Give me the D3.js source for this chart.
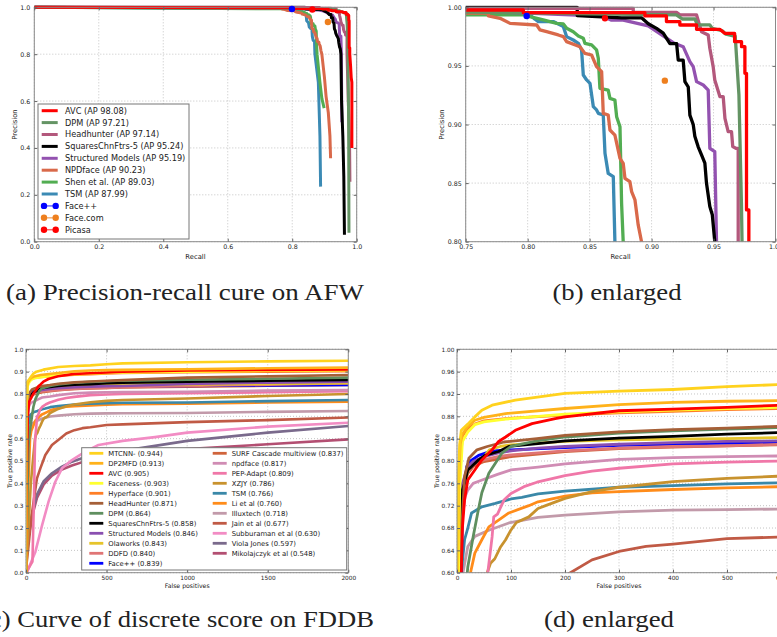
<!DOCTYPE html>
<html>
<head>
<meta charset="utf-8">
<script src="https://cdn.jsdelivr.net/npm/d3@7"></script>
<style>
  body { margin: 0; background: #fff; }
  svg { display: block; }
  text { font-family: "DejaVu Sans", sans-serif; fill: #222; }
</style>
</head>
<body>
<svg id="fig" width="777" height="637"></svg>
<script>
// ---------- AFW precision / recall  ([recall, precision]) ----------
const afwNames = ["AVC (AP 98.08)", "DPM (AP 97.21)", "Headhunter (AP 97.14)", "SquaresChnFtrs-5 (AP 95.24)",
  "Structured Models (AP 95.19)", "NPDface (AP 90.23)", "Shen et al. (AP 89.03)", "TSM (AP 87.99)"];
const afwColors = ["#ff0000", "#649464", "#b3587c", "#000000", "#9352b0", "#d9694a", "#52ad52", "#3b8ab4"];

const afwAVC = [[0,1],[0.75,0.9977],[0.7965,0.9977],[0.7965,0.9954],[0.8946,0.9954],[0.8946,0.9926],[0.912,0.9926],
  [0.912,0.9878],[0.9228,0.9878],[0.9228,0.9849],[0.9363,0.9849],[0.9363,0.9812],[0.955,0.9812],[0.959,0.9778],
  [0.967,0.9778],[0.967,0.9707],[0.9726,0.9707],[0.9726,0.9664],[0.9753,0.9664],[0.9753,0.9437],[0.9766,0.9437],
  [0.9766,0.8271],[0.9785,0.8271],[0.9785,0.80],[0.981,0.75],[0.983,0.70],[0.985,0.68],[0.985,0.40]];
const afwDPM = [[0,1],[0.75,0.996],[0.85,0.9945],[0.92,0.9935],[0.925,0.99],[0.935,0.99],[0.937,0.985],[0.947,0.985],
  [0.949,0.982],[0.957,0.98],[0.96,0.977],[0.966,0.9755],[0.9675,0.9755],[0.969,0.95],[0.9705,0.925],[0.9725,0.833],
  [0.973,0.80],[0.975,0.50],[0.976,0.038]];
const afwHeadhunter = [[0,1],[0.75,0.9991],[0.8852,0.9991],[0.8852,0.9957],[0.9201,0.9957],[0.9228,0.9935],
  [0.9363,0.9935],[0.9403,0.9792],[0.9457,0.9764],[0.947,0.965],[0.9497,0.9494],[0.951,0.938],[0.9551,0.9238],
  [0.9578,0.9238],[0.9592,0.9053],[0.9618,0.8939],[0.9645,0.8939],[0.9655,0.8811],[0.968,0.8797],[0.9699,0.8797],
  [0.9699,0.80],[0.974,0.60],[0.978,0.40],[0.979,0.256]];
const afwSquares = [[0,1],[0.84,1.0],[0.84,0.993],[0.8758,0.991],[0.8919,0.991],[0.8973,0.986],[0.904,0.982],
  [0.9094,0.978],[0.9148,0.969],[0.9202,0.969],[0.9215,0.955],[0.9255,0.955],[0.9269,0.9366],[0.9296,0.932],
  [0.9309,0.908],[0.9336,0.90],[0.9349,0.89],[0.9376,0.881],[0.9403,0.874],[0.943,0.867],[0.9443,0.85],
  [0.947,0.83],[0.949,0.823],[0.951,0.80],[0.953,0.60],[0.957,0.45],[0.96,0.28],[0.962,0.03]];
const afwStructured = [[0,1],[0.55,0.998],[0.75,0.997],[0.86,0.9925],[0.8677,0.989],[0.8771,0.989],[0.8973,0.9841],
  [0.9175,0.9698],[0.9255,0.9664],[0.9309,0.9536],[0.9336,0.9494],[0.9363,0.9366],[0.9417,0.9337],[0.9457,0.9294],
  [0.947,0.8797],[0.951,0.8768],[0.9524,0.80],[0.954,0.51]];
const afwNPD = [[0,1],[0.45,0.999],[0.75,0.995],[0.7683,0.995],[0.7683,0.9926],[0.7777,0.9906],[0.7858,0.9863],
  [0.8073,0.9849],[0.8099,0.9807],[0.8153,0.9792],[0.8247,0.9764],[0.8288,0.975],[0.8314,0.9707],[0.8422,0.9664],
  [0.8462,0.9607],[0.8516,0.9593],[0.8556,0.9494],[0.8597,0.9451],[0.861,0.9095],[0.865,0.9081],[0.8664,0.8953],
  [0.8704,0.891],[0.8745,0.8711],[0.8771,0.8669],[0.8785,0.8541],[0.8825,0.8512],[0.8839,0.8427],[0.8866,0.8356],
  [0.8892,0.8143],[0.8919,0.80],[0.90,0.70],[0.905,0.62],[0.912,0.55],[0.917,0.45],[0.919,0.356]];
const afwShen = [[0,1],[0.75,0.9935],[0.7992,0.9935],[0.7992,0.9926],[0.8126,0.9892],[0.8234,0.9863],[0.8288,0.9858],
  [0.8315,0.9821],[0.8368,0.9792],[0.8409,0.9755],[0.8449,0.9735],[0.8462,0.9693],[0.8516,0.9679],[0.8556,0.9636],
  [0.857,0.9565],[0.8583,0.9309],[0.865,0.9294],[0.8664,0.9223],[0.8704,0.9209],[0.8718,0.9067],[0.8745,0.8981],
  [0.8758,0.8327],[0.8771,0.80],[0.886,0.68],[0.892,0.61],[0.899,0.57]];
const afwTSM = [[0,1],[0.75,0.9949],[0.7992,0.9949],[0.8019,0.9935],[0.8059,0.9898],[0.8086,0.9878],[0.8207,0.9878],
  [0.8288,0.9835],[0.8314,0.975],[0.8368,0.9721],[0.8409,0.9693],[0.8435,0.9636],[0.8449,0.9422],[0.8476,0.938],
  [0.8503,0.9351],[0.853,0.9152],[0.8556,0.9124],[0.857,0.9095],[0.861,0.9081],[0.8624,0.8754],[0.865,0.8583],
  [0.8691,0.8555],[0.8704,0.80],[0.881,0.68],[0.886,0.45],[0.888,0.235]];

// single operating points of the commercial systems
const afwPointNames = ["Face++", "Face.com", "Picasa"];
const afwPointColors = ["#0000ff", "#ee7f1e", "#ff0000"];
const afwPoints = [[0.7992, 0.9926], [0.9107, 0.9374], [0.8624, 0.9906]];

const afwTicksFull = [0, 0.2, 0.4, 0.6, 0.8, 1.0];
const afwTicksZoomX = [0.75, 0.80, 0.85, 0.90, 0.95, 1.00];
const afwTicksZoomY = [0.80, 0.85, 0.90, 0.95, 1.00];

// ---------- FDDB discrete ROC  ([false positives, true positive rate]) ----------
const fddbNames = ["MTCNN- (0.944)", "DP2MFD (0.913)", "AVC (0.905)", "Faceness- (0.903)", "Hyperface (0.901)",
  "HeadHunter (0.871)", "DPM (0.864)", "SquaresChnFtrs-5 (0.858)", "Structured Models (0.846)", "Olaworks (0.843)",
  "DDFD (0.840)", "Face++ (0.839)", "SURF Cascade multiview (0.837)", "npdface (0.817)", "PEP-Adapt (0.809)",
  "XZJY (0.786)", "TSM (0.766)", "Li et al (0.760)", "Illuxtech (0.718)", "Jain et al (0.677)",
  "Subburaman et al (0.630)", "Viola Jones (0.597)", "Mikolajczyk et al (0.548)"];
const fddbColors = ["#ffd21e", "#ffb21a", "#ff0000", "#ffff30", "#ff7e26", "#a55f37", "#5f8f5f", "#000000",
  "#8a4fb0", "#e6c42a", "#e07575", "#0000ff", "#d0643c", "#d08cb4", "#f077a8", "#c8922e", "#3a88a8", "#ff8c1a",
  "#c29aaa", "#c05a45", "#f28cc4", "#7a6a8c", "#b34f72"];

const rocMTCNN = [[0,0],[1,0.6],[3,0.78],[5,0.83],[8,0.855],[20,0.866],[33,0.879],[46,0.891],[65,0.90],[108,0.909],
  [200,0.921],[300,0.925],[400,0.928],[500,0.933],[600,0.937],[1000,0.942],[1500,0.946],[2000,0.949]];
const rocDP2MFD = [[0,0],[1,0.6],[3,0.76],[6,0.83],[10,0.848],[20,0.862],[33,0.873],[50,0.878],[90,0.885],
  [200,0.894],[300,0.901],[400,0.905],[500,0.907],[600,0.908],[1000,0.911],[1500,0.915],[2000,0.918]];
const rocAVC = [[0,0],[5,0.45],[8,0.60],[10,0.68],[14,0.73],[20,0.766],[33,0.784],[46,0.802],[65,0.82],[77,0.835],
  [90,0.843],[108,0.855],[139,0.867],[182,0.876],[200,0.879],[300,0.89],[400,0.893],[500,0.896],[600,0.90],
  [1000,0.905],[1500,0.908],[2000,0.91]];
const rocFaceness = [[0,0],[2,0.55],[5,0.75],[10,0.835],[20,0.852],[33,0.865],[50,0.87],[90,0.875],[200,0.884],
  [300,0.888],[400,0.891],[500,0.894],[600,0.896],[1000,0.90],[1500,0.904],[2000,0.907]];
const rocHyperface = [[0,0],[2,0.6],[5,0.78],[10,0.845],[20,0.858],[33,0.866],[50,0.872],[90,0.876],[200,0.882],
  [300,0.886],[400,0.889],[500,0.892],[600,0.894],[1000,0.897],[1500,0.90],[2000,0.902]];
const rocHeadHunter = [[0,0],[3,0.45],[6,0.62],[10,0.70],[14,0.772],[22,0.805],[37,0.82],[56,0.826],[87,0.834],
  [148,0.84],[200,0.846],[300,0.852],[400,0.856],[500,0.859],[600,0.862],[1000,0.873],[1500,0.879],[2000,0.885]];
const rocDPM = [[0,0],[5,0.2],[10,0.40],[15,0.56],[20,0.61],[30,0.665],[40,0.715],[46,0.743],[59,0.778],[71,0.796],
  [83,0.814],[100,0.826],[148,0.836],[200,0.843],[300,0.85],[400,0.854],[500,0.857],[600,0.86],[1000,0.864],
  [1500,0.868],[2000,0.873]];
const rocSquares = [[0,0],[3,0.45],[5,0.676],[10,0.748],[14,0.76],[20,0.784],[27,0.79],[40,0.802],[52,0.81],
  [77,0.817],[96,0.826],[150,0.831],[200,0.836],[300,0.841],[400,0.844],[500,0.848],[600,0.851],[1000,0.855],
  [1500,0.859],[2000,0.863]];
const rocStructured = [[0,0],[3,0.5],[6,0.7],[10,0.76],[20,0.79],[30,0.799],[50,0.808],[75,0.814],[100,0.818],
  [150,0.823],[200,0.826],[300,0.83],[400,0.833],[500,0.835],[600,0.836],[1000,0.845],[1500,0.851],[2000,0.855]];
const rocOlaworks = [[0,0],[3,0.5],[6,0.68],[10,0.74],[20,0.784],[30,0.796],[40,0.802],[50,0.808],[60,0.82],
  [80,0.826],[100,0.829],[200,0.835],[300,0.838],[400,0.839],[500,0.84],[600,0.842],[1000,0.843],[1500,0.845],
  [2000,0.848]];
const rocDDFD = [[0,0],[3,0.5],[6,0.68],[10,0.73],[15,0.769],[20,0.781],[30,0.793],[40,0.799],[50,0.802],[75,0.808],
  [100,0.811],[200,0.818],[300,0.823],[400,0.826],[500,0.827],[600,0.83],[1000,0.836],[1500,0.842],[2000,0.848]];
const rocFacePP = [[0,0],[5,0.45],[10,0.70],[14,0.755],[18,0.79],[25,0.80],[40,0.81],[65,0.818],[100,0.82],
  [200,0.824],[300,0.828],[400,0.83],[500,0.832],[600,0.833],[1000,0.836],[1500,0.838],[2000,0.84]];
const rocSURF = [[0,0],[3,0.45],[6,0.65],[10,0.748],[20,0.778],[30,0.79],[50,0.799],[100,0.808],[200,0.817],
  [300,0.822],[400,0.825],[500,0.827],[600,0.829],[1000,0.833],[1500,0.837],[2000,0.84]];
const rocNpdface = [[0,0],[3,0.4],[6,0.6],[10,0.70],[15,0.736],[20,0.748],[30,0.76],[44,0.765],[75,0.776],
  [100,0.784],[150,0.789],[200,0.795],[300,0.803],[400,0.806],[500,0.808],[600,0.809],[1000,0.81],[1500,0.815],
  [2000,0.818]];
const rocPEP = [[0,0],[40,0.05],[50,0.35],[55,0.55],[57,0.60],[62,0.64],[65,0.664],[68,0.70],[75,0.705],[87,0.73],
  [100,0.742],[124,0.754],[148,0.762],[200,0.774],[250,0.782],[300,0.787],[400,0.795],[500,0.798],[600,0.80],
  [1000,0.803],[1500,0.808],[2000,0.812]];
const rocXZJY = [[0,0],[15,0.2],[30,0.40],[45,0.52],[56,0.60],[62,0.617],[70,0.625],[80,0.645],[90,0.659],
  [99,0.675],[110,0.69],[133,0.70],[150,0.715],[164,0.72],[200,0.733],[250,0.745],[300,0.753],[400,0.763],
  [500,0.769],[600,0.773],[1000,0.78],[1500,0.791],[2000,0.80]];
const rocTSM = [[0,0],[3,0.3],[6,0.5],[8,0.60],[14,0.659],[20,0.68],[27,0.707],[46,0.718],[71,0.724],[100,0.732],
  [120,0.735],[150,0.741],[200,0.746],[300,0.753],[400,0.756],[500,0.759],[600,0.761],[1000,0.762],[1500,0.768],
  [2000,0.773]];
const rocLi = [[0,0],[10,0.3],[20,0.5],[25,0.60],[33,0.635],[46,0.659],[59,0.682],[77,0.694],[96,0.707],[133,0.72],
  [150,0.727],[200,0.737],[250,0.743],[300,0.745],[400,0.749],[500,0.752],[600,0.754],[1000,0.757],[1500,0.762],
  [2000,0.766]];
const rocIlluxtech = [[0,0],[3,0.3],[7,0.5],[11,0.60],[20,0.647],[33,0.665],[59,0.676],[96,0.689],[150,0.699],
  [200,0.703],[300,0.709],[400,0.712],[500,0.713],[600,0.714],[1000,0.715],[1500,0.72],[2000,0.724]];
const rocJain = [[0,0],[5,0.05],[16,0.124],[33,0.243],[47,0.318],[68,0.422],[89,0.467],[120,0.527],[161,0.572],
  [210,0.60],[250,0.623],[300,0.638],[350,0.647],[400,0.651],[500,0.661],[600,0.664],[1000,0.674],[1500,0.683],
  [2000,0.695]];
const rocSubburaman = [[0,0],[6,0.0],[30,0.045],[58,0.093],[100,0.213],[140,0.318],[182,0.407],[223,0.467],
  [285,0.504],[368,0.542],[450,0.572],[600,0.59],[800,0.607],[1000,0.627],[1500,0.654],[2000,0.671]];
const rocViola = [[0,0],[5,0.09],[16,0.17],[37,0.26],[68,0.35],[110,0.41],[161,0.445],[223,0.475],[285,0.497],
  [347,0.512],[500,0.535],[830,0.571],[1000,0.59],[1500,0.627],[2000,0.657]];
const rocMikolajczyk = [[0,0],[5,0.08],[16,0.16],[37,0.25],[68,0.335],[110,0.395],[161,0.435],[223,0.462],
  [285,0.48],[350,0.495],[500,0.515],[1000,0.553],[1500,0.575],[2000,0.597]];

const fddbTicksFullX = [0, 500, 1000, 1500, 2000];
const fddbTicksFullY = [0, 0.1, 0.2, 0.3, 0.4, 0.5, 0.6, 0.7, 0.8, 0.9, 1.0];
const fddbTicksZoomX = [0, 100, 200, 300, 400, 500, 600];
const fddbTicksZoomY = [0.60, 0.64, 0.68, 0.72, 0.76, 0.80, 0.84, 0.88, 0.92, 0.96, 1.00];

const captions = ["(a) Precision-recall cure on AFW", "(b) enlarged", "(c) Curve of discrete score on FDDB", "(d) enlarged"];

// ---------- build series ----------
const afwCurves = [afwAVC, afwDPM, afwHeadhunter, afwSquares, afwStructured, afwNPD, afwShen, afwTSM];
const afwSeries = afwNames.map((n, i) => ({ name: n, color: afwColors[i], pts: afwCurves[i] }));

const fddbCurves = [rocMTCNN, rocDP2MFD, rocAVC, rocFaceness, rocHyperface, rocHeadHunter, rocDPM, rocSquares,
  rocStructured, rocOlaworks, rocDDFD, rocFacePP, rocSURF, rocNpdface, rocPEP, rocXZJY, rocTSM, rocLi,
  rocIlluxtech, rocJain, rocSubburaman, rocViola, rocMikolajczyk];
const fddbSeries = fddbNames.map((n, i) => ({ name: n, color: fddbColors[i], pts: fddbCurves[i] }));

const svg = d3.select("#fig");

// one axes box: grid, curves, frame, inward ticks, labels
let drawPanel = (o) => {
  const x = d3.scaleLinear().domain(o.xDomain).range([o.left, o.right]);
  const y = d3.scaleLinear().domain(o.yDomain).range([o.bottom, o.top]);
  const g = svg.append("g");

  svg.append("clipPath").attr("id", "clip-" + o.id)
    .append("rect")
    .attr("x", o.left).attr("y", o.top - 2)
    .attr("width", o.right - o.left).attr("height", o.bottom - o.top + 2);

  // dotted grid
  const grid = g.append("g").attr("stroke", "#b5b5b5").attr("stroke-width", 0.8).attr("stroke-dasharray", "1,2");
  grid.selectAll(".gx").data(o.xTicks).join("line")
    .attr("x1", d => x(d)).attr("x2", d => x(d)).attr("y1", o.top).attr("y2", o.bottom);
  grid.selectAll(".gy").data(o.yTicks).join("line")
    .attr("y1", d => y(d)).attr("y2", d => y(d)).attr("x1", o.left).attr("x2", o.right);

  // curves, first legend entry ends on top
  const line = d3.line().x(d => x(d[0])).y(d => y(d[1]));
  g.append("g").attr("clip-path", `url(#clip-${o.id})`)
    .selectAll("path").data(o.series.slice().reverse()).join("path")
    .attr("d", d => line(d.pts))
    .attr("fill", "none")
    .attr("stroke", d => d.color)
    .attr("stroke-width", o.lw)
    .attr("stroke-linejoin", "round");

  // frame
  g.append("rect")
    .attr("x", o.left).attr("y", o.top)
    .attr("width", o.right - o.left).attr("height", o.bottom - o.top)
    .attr("fill", "none").attr("stroke", "#8a8a8a").attr("stroke-width", 1);

  // axes with ticks pointing inward
  const styleAxis = (sel, size) => {
    sel.select(".domain").remove();
    sel.selectAll(".tick line").attr("stroke", "#666");
    sel.selectAll("text").style("font-size", size + "px").style("font-family", "DejaVu Sans, sans-serif").attr("fill", "#222");
  };
  g.append("g").attr("transform", `translate(0,${o.bottom})`)
    .call(d3.axisBottom(x).tickValues(o.xTicks).tickFormat(d3.format(o.xFmt)).tickSizeInner(-3).tickSizeOuter(0).tickPadding(3))
    .call(s => styleAxis(s, o.tickFont));
  g.append("g").attr("transform", `translate(${o.left},0)`)
    .call(d3.axisLeft(y).tickValues(o.yTicks).tickFormat(d3.format(o.yFmt)).tickSizeInner(-3).tickSizeOuter(0).tickPadding(o.yPad))
    .call(s => styleAxis(s, o.tickFont));
  g.append("g").attr("transform", `translate(0,${o.top})`)
    .call(d3.axisTop(x).tickValues(o.xTicks).tickFormat("").tickSizeInner(-3).tickSizeOuter(0))
    .call(s => styleAxis(s, o.tickFont));
  g.append("g").attr("transform", `translate(${o.right},0)`)
    .call(d3.axisRight(y).tickValues(o.yTicks).tickFormat("").tickSizeInner(-3).tickSizeOuter(0))
    .call(s => styleAxis(s, o.tickFont));

  // axis titles
  g.append("text")
    .attr("x", (o.left + o.right) / 2).attr("y", o.xLabelY)
    .attr("text-anchor", "middle").style("font-size", o.labelFont + "px")
    .text(o.xLabel);
  g.append("text")
    .attr("transform", `translate(${o.yLabelX},${(o.top + o.bottom) / 2}) rotate(-90)`)
    .attr("text-anchor", "middle").attr("dy", "0.35em").style("font-size", o.labelFont + "px")
    .text(o.yLabel);

  return { x, y, g };
};

// ---------- (a) and (b) ----------
const afwBase = { series: afwSeries, lw: 3, tickFont: 6.3, labelFont: 6.8, xFmt: ".1f", yFmt: ".1f",
  top: 7.3, bottom: 241.7, xLabel: "Recall", yLabel: "Precision", xLabelY: 258.5, yPad: 4 };

const pa = drawPanel(Object.assign({}, afwBase, { id: "a", left: 34.3, right: 356.7,
  xDomain: [0, 1], yDomain: [0, 1], xTicks: afwTicksFull, yTicks: afwTicksFull, yLabelX: 15 }));
const pb = drawPanel(Object.assign({}, afwBase, { id: "b", left: 465.7, right: 775.5, lw: 3.3,
  xDomain: [0.75, 1], yDomain: [0.8, 1], xTicks: afwTicksZoomX, yTicks: afwTicksZoomY,
  xFmt: ".2f", yFmt: ".2f", yLabelX: 441.7 }));

[pa, pb].forEach(p => {
  p.g.selectAll(".pt").data(afwPoints).join("circle")
    .attr("cx", d => p.x(d[0])).attr("cy", d => p.y(d[1]))
    .attr("r", 3.2)
    .attr("fill", (d, i) => afwPointColors[i]);
});

// legend (a)
const legA = svg.append("g");
legA.append("rect").attr("x", 38).attr("y", 104).attr("width", 151).attr("height", 135)
  .attr("fill", "#fff").attr("stroke", "#777").attr("stroke-width", 1);
const rowA = d3.scaleLinear().domain([0, 10]).range([110.7, 229.7]);
afwSeries.forEach((s, i) => {
  legA.append("line").attr("x1", 41.7).attr("x2", 57.7).attr("y1", rowA(i)).attr("y2", rowA(i))
    .attr("stroke", s.color).attr("stroke-width", 3);
  legA.append("text").attr("x", 65).attr("y", rowA(i)).attr("dy", "0.36em")
    .style("font-size", "8.2px").text(s.name);
});
afwPointNames.forEach((n, j) => {
  const i = afwSeries.length + j;
  legA.append("line").attr("x1", 44).attr("x2", 55.7).attr("y1", rowA(i)).attr("y2", rowA(i))
    .attr("stroke", afwPointColors[j]).attr("stroke-width", 1.5).attr("stroke-opacity", 0.6);
  [44, 55.7].forEach(cx => legA.append("circle").attr("cx", cx).attr("cy", rowA(i)).attr("r", 3.2)
    .attr("fill", afwPointColors[j]));
  legA.append("text").attr("x", 65).attr("y", rowA(i)).attr("dy", "0.36em")
    .style("font-size", "8.2px").text(n);
});

// ---------- (c) and (d) ----------
const fddbBase = { series: fddbSeries, lw: 2.6, tickFont: 5.8, labelFont: 6.2, xFmt: "d",
  top: 349.3, bottom: 572.7, xLabel: "False positives", yLabel: "True positive rate", xLabelY: 587.5 };

drawPanel(Object.assign({}, fddbBase, { id: "c", left: 26, right: 348.3,
  xDomain: [0, 2000], yDomain: [0, 1], xTicks: fddbTicksFullX, yTicks: fddbTicksFullY,
  yFmt: ".1f", yPad: 2.5, yLabelX: 10 }));
drawPanel(Object.assign({}, fddbBase, { id: "d", left: 457, right: 781, lw: 2.8,
  xDomain: [0, 600], yDomain: [0.6, 1], xTicks: fddbTicksZoomX, yTicks: fddbTicksZoomY,
  yFmt: ".2f", yPad: 2.5, yLabelX: 437 }));

// legend (c), two columns
const legC = svg.append("g");
legC.append("rect").attr("x", 81.7).attr("y", 447.7).attr("width", 265).attr("height", 122.3)
  .attr("fill", "#fff").attr("stroke", "#777").attr("stroke-width", 1);
const rowC = d3.scaleLinear().domain([0, 11]).range([453.3, 563.3]);
fddbSeries.forEach((s, i) => {
  const col = i < 12 ? 0 : 1;
  const r = col ? i - 12 : i;
  const lx = col ? 212.7 : 89.3;
  const tx = col ? 231.7 : 108.3;
  legC.append("line").attr("x1", lx).attr("x2", lx + 14).attr("y1", rowC(r)).attr("y2", rowC(r))
    .attr("stroke", s.color).attr("stroke-width", 2.8);
  legC.append("text").attr("x", tx).attr("y", rowC(r)).attr("dy", "0.36em")
    .style("font-size", "6.85px").text(s.name);
});

// ---------- sub-figure captions ----------
const capPos = [[6, 300, 358], [552.5, 300, 129], [-19, 627, 393], [544, 627, 130]];
captions.forEach((c, i) => {
  svg.append("text")
    .attr("x", capPos[i][0]).attr("y", capPos[i][1])
    .attr("textLength", capPos[i][2]).attr("lengthAdjust", "spacingAndGlyphs")
    .style("font-family", "'Liberation Serif', 'DejaVu Serif', serif")
    .style("font-size", "23px").attr("fill", "#111")
    .text(c);
});
</script>
</body>
</html>
